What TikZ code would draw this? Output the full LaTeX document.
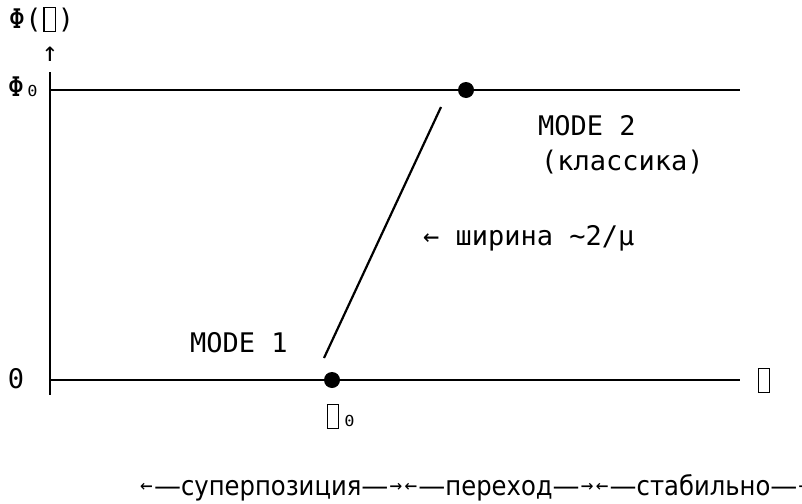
\documentclass[tikz,border=0pt]{standalone}
\usepackage{fontspec}
\setmainfont{DejaVu Sans}
\newfontfamily\monof{DejaVu Sans Mono}
\newfontfamily\sansf{DejaVu Sans}
\newcommand\tofu{\makebox[0.602em]{\raisebox{-0.07em}{\setlength{\fboxsep}{0pt}\setlength{\fboxrule}{1.2pt}\fbox{\rule{0pt}{0.85em}\rule{0.38em}{0pt}}}}}
\newcommand\smlarr{\makebox[15pt]{\raisebox{2.5pt}{\monof\fontsize{21}{24}\selectfont ←}}}
\newcommand\smrarr{\makebox[15pt]{\raisebox{2.5pt}{\monof\fontsize{21}{24}\selectfont →}}}
\newcommand\cond[1]{\scalebox{0.9}[1]{#1}}
\begin{document}
\begin{tikzpicture}[x=1pt,y=-1pt,
  every node/.style={inner sep=0pt, outer sep=0pt},
  lbl/.style={font=\monof\fontsize{27}{32}\selectfont, anchor=base west},
  axisline/.style={line width=2.8pt},
  slantline/.style={line width=2.2pt},
  dotnode/.style={circle, fill=black, minimum size=16pt}]
\useasboundingbox (0,0) rectangle (802,503);
\fill[white] (0,0) rectangle (802,503);
% axes
\coordinate (vtop) at (50,72);
\coordinate (vbot) at (50,395);
\coordinate (tl) at (50,90);
\coordinate (tr) at (740,90);
\coordinate (bl) at (50,380);
\coordinate (br) at (740,380);
\draw[axisline] (vtop) -- (vbot);
\draw[axisline] (tl) -- (tr);
\draw[axisline] (bl) -- (br);
% slanted transition
\coordinate (s1) at (324,358);
\coordinate (s2) at (441,107);
\draw[slantline] (s1) -- (s2);
% dots
\node[dotnode] (p2) at (466,90) {};
\node[dotnode] (p1) at (332,380) {};
% labels
\node[lbl] (ylab) at (9,29) {Φ(\tofu)};
\node[lbl, anchor=base] (uparrow) at (50,62) {↑};
\node[lbl] (phi0) at (8,96) {Φ₀};
\node[lbl] (zero) at (8,388) {0};
\node[lbl] (mode1) at (190,352) {MODE 1};
\node[lbl] (mode2) at (538,135) {MODE 2};
\node[lbl] (klass) at (541,170) {(классика)};
\node[lbl] (width) at (423,245) {← ширина \textasciitilde 2/μ};
\node[lbl] (xlab) at (756,390) {\tofu};
\node[lbl] (x0) at (325,426) {\tofu₀};
\node[anchor=base west, font=\sansf\fontsize{27}{32}\selectfont] (regions) at (139,495)
  {\smlarr—\cond{суперпозиция}—\smrarr\smlarr—\cond{переход}—\smrarr\smlarr—\cond{стабильно}—\smrarr};
\end{tikzpicture}
\end{document}
